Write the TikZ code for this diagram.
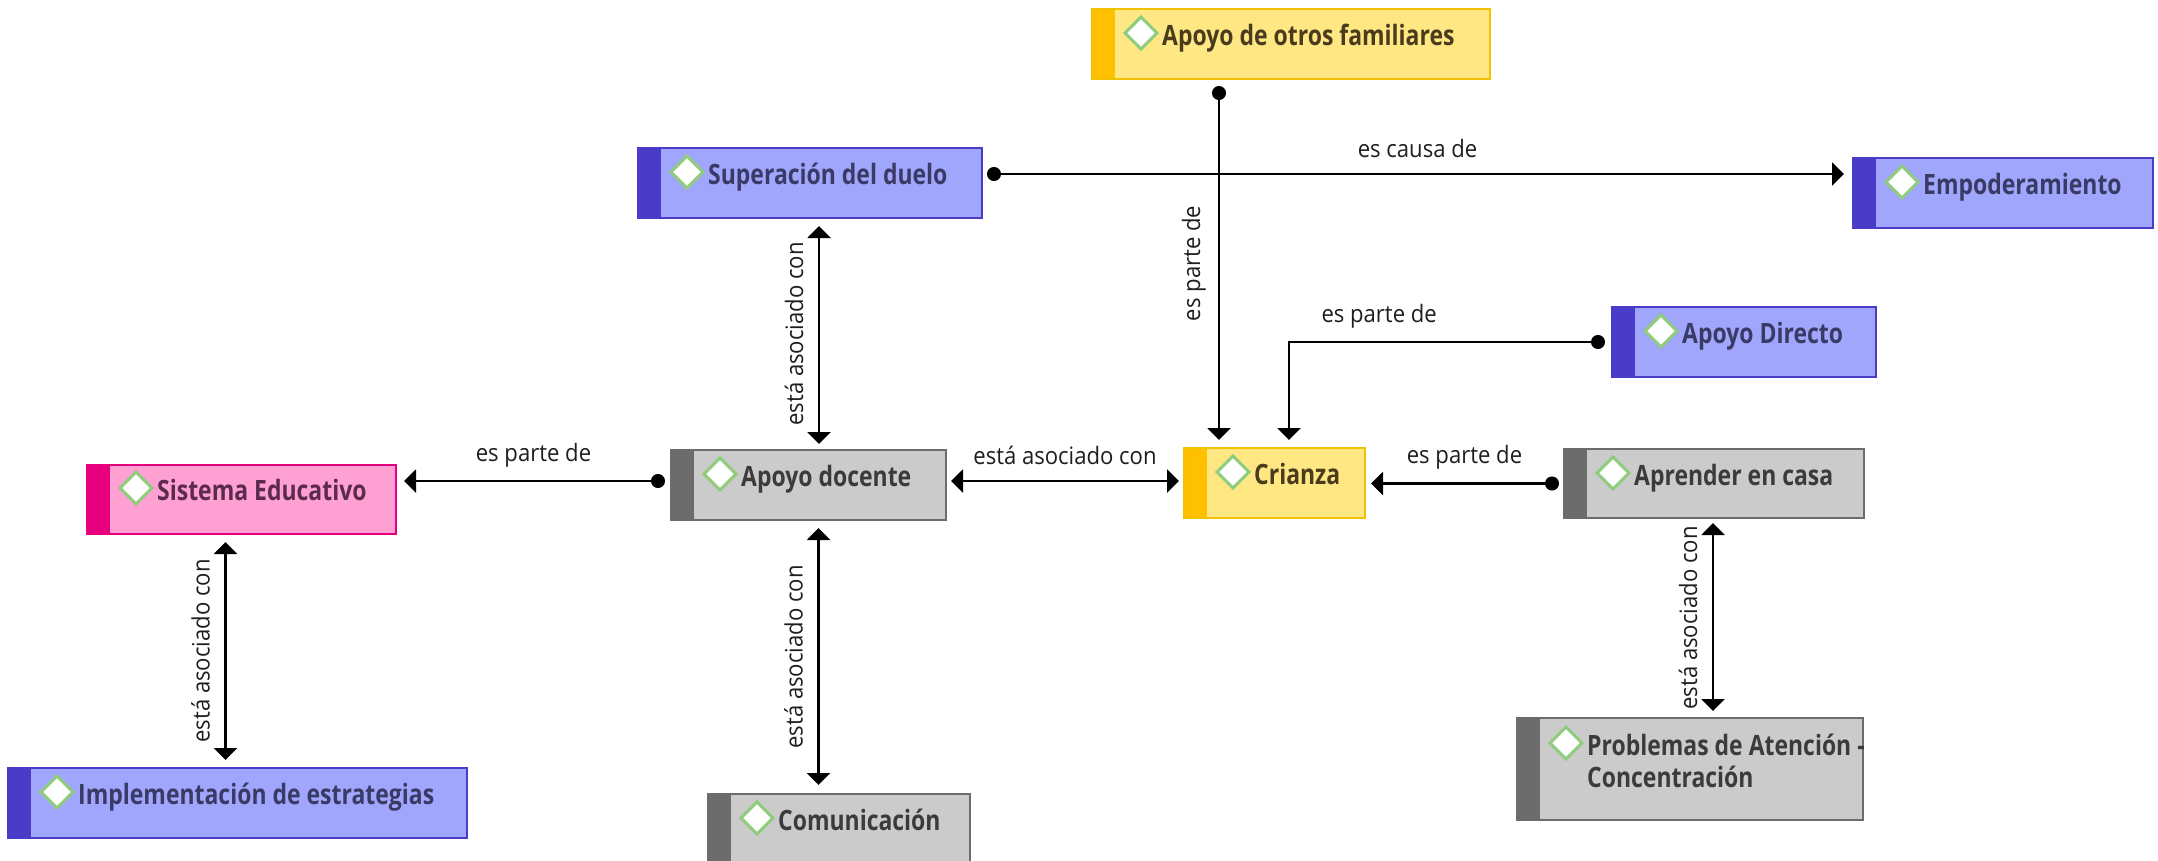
\documentclass[tikz,border=0pt]{standalone}
\usepackage{fontspec}
\newfontfamily\nodefont[FakeStretch=0.82]{Open Sans}
\newfontfamily\labfont[FakeStretch=0.92]{Open Sans}
\usetikzlibrary{arrows.meta,calc}
\definecolor{cblue}{HTML}{A0A6FB}
\definecolor{cbluedk}{HTML}{4A3CC8}
\definecolor{cbluetx}{HTML}{3A3A66}
\definecolor{cgrey}{HTML}{CBCBCB}
\definecolor{cgreydk}{HTML}{6C6C6C}
\definecolor{cgreytx}{HTML}{3B3B3B}
\definecolor{cyel}{HTML}{FFE883}
\definecolor{cyeldk}{HTML}{FFC000}
\definecolor{cyelbd}{HTML}{F2C100}
\definecolor{cyeltx}{HTML}{4A3B1C}
\definecolor{cpink}{HTML}{FFA0D3}
\definecolor{cpinkdk}{HTML}{E6007E}
\definecolor{cpinktx}{HTML}{5C2A4C}
\definecolor{cicon}{HTML}{8FCC7E}
\definecolor{clab}{HTML}{1E1E1E}
\tikzset{
  concept/.style={rectangle, line width=2pt, inner sep=0pt,
    path picture={\fill[#1] (path picture bounding box.south west) rectangle ([xshift=23pt]path picture bounding box.north west);}},
  bluebox/.style={concept=cbluedk, fill=cblue, draw=cbluedk},
  greybox/.style={concept=cgreydk, fill=cgrey, draw=cgreydk},
  yelbox/.style={concept=cyeldk, fill=cyel, draw=cyelbd},
  pinkbox/.style={concept=cpinkdk, fill=cpink, draw=cpinkdk},
  ctext/.style={inner sep=0pt, align=left, font=\nodefont\bfseries\fontsize{28}{29}\selectfont},
  bluebox text/.style={ctext, text=cbluetx},
  greybox text/.style={ctext, text=cgreytx},
  yelbox text/.style={ctext, text=cyeltx},
  pinkbox text/.style={ctext, text=cpinktx},
  icon/.style={draw=cicon, fill=white, line width=3pt, line join=miter},
  conn/.style={draw=black, line width=2.2pt},
  dotarrow/.style={conn, {Circle[length=14pt]}-{Triangle[width=23pt,length=12pt]}},
  twoway/.style={conn, {Triangle[width=23pt,length=12pt]}-{Triangle[width=23pt,length=12pt]}},
  lab/.style={font=\labfont\fontsize{24}{28}\selectfont, text=clab, inner sep=0pt},
}
% #1 name, #2 style, #3 x, #4 y, #5 w, #6 h, #7 last baseline from top, #8 text, #9 icon height above last baseline
\newcommand{\cmapnode}[9]{%
  \node[#2, minimum width=#5pt, minimum height=#6pt, anchor=north west] (#1) at (#3,#4) {};
  \node[#2 text, anchor=base west] (#1-t) at ([xshift=71pt,yshift=-#7pt]#1.north west) {#8};
  \draw[icon] ([xshift=-21pt,yshift=#9pt]#1-t.base west) +(16pt,0pt) -- +(0pt,16pt) -- +(-16pt,0pt) -- +(0pt,-16pt) -- cycle;
}
\begin{document}
\begin{tikzpicture}[x=1pt,y=-1pt]
\path[use as bounding box, fill=white] (0,0) rectangle (2158,860);
\clip (0,0) rectangle (2158,860);
% concepts
\cmapnode{fam}{yelbox}{1091}{8}{398}{70}{37}{Apoyo de otros familiares}{12}
\cmapnode{sup}{bluebox}{637}{147}{344}{70}{37}{Superación del duelo}{12}
\cmapnode{emp}{bluebox}{1852}{157}{300}{70}{37}{Empoderamiento}{12}
\cmapnode{dir}{bluebox}{1611}{306}{264}{70}{37}{Apoyo Directo}{12}
\cmapnode{sis}{pinkbox}{86}{464}{309}{69}{36}{Sistema Educativo}{12}
\cmapnode{doc}{greybox}{670}{449}{275}{70}{37}{Apoyo docente}{12}
\cmapnode{cri}{yelbox}{1183}{447}{181}{70}{37}{Crianza}{12}
\cmapnode{apr}{greybox}{1563}{448}{300}{69}{37}{Aprender en casa}{12}
\cmapnode{imp}{bluebox}{7}{767}{459}{70}{37}{Implementación de estrategias}{12}
\cmapnode{com}{greybox}{707}{793}{262}{72}{37}{Comunicación}{12}
\cmapnode{prob}{greybox}{1516}{717}{346}{102}{70}{Problemas de Atención -\\[3pt]Concentración}{44}
% connector end points
\coordinate (supR) at ([yshift=9pt]sup.east);
\coordinate (docL) at ([yshift=4pt]doc.west);
\coordinate (docR) at ([yshift=4pt]doc.east);
% connectors
\draw[dotarrow, shorten <=6pt, shorten >=7pt] ([xshift=-72pt]fam.south) -- ([xshift=-72pt]fam.south |- cri.north)
  node[lab, midway, xshift=-25pt, rotate=90] {es parte de};
\draw[dotarrow, shorten <=6pt, shorten >=7pt] (dir.west) -| ([xshift=106pt]cri.north west)
  node[lab, pos=0.36, yshift=26pt] {es parte de};
\draw[dotarrow, shorten <=4pt, shorten >=8pt] (supR) -- (emp.west |- supR)
  node[lab, midway, yshift=26pt] {es causa de};
\draw[twoway, shorten <=7pt, shorten >=5pt] ([xshift=9pt]sup.south) -- ([xshift=9pt]sup.south |- doc.north)
  node[lab, midway, xshift=-25pt, rotate=90] {está asociado con};
\draw[dotarrow, shorten <=5pt, shorten >=7pt] (docL) -- (sis.east |- docL)
  node[lab, midway, yshift=26pt] {es parte de};
\draw[twoway, shorten <=4pt, shorten >=4pt] (docR) -- (cri.west |- docR)
  node[lab, midway, yshift=26pt] {está asociado con};
\draw[dotarrow, shorten <=4pt, shorten >=5pt] (apr.west) -- (cri.east |- apr.west)
  node[lab, midway, yshift=26pt] {es parte de};
\draw[twoway, shorten <=7pt, shorten >=7pt] ([xshift=-16pt]sis.south) -- ([xshift=-16pt]sis.south |- imp.north)
  node[lab, midway, xshift=-25pt, rotate=90] {está asociado con};
\draw[twoway, shorten <=7pt, shorten >=8pt] ([xshift=10pt]doc.south) -- ([xshift=10pt]doc.south |- com.north)
  node[lab, midway, xshift=-25pt, rotate=90] {está asociado con};
\draw[twoway, shorten <=4pt, shorten >=6pt] ([xshift=-1pt]apr.south) -- ([xshift=-1pt]apr.south |- prob.north)
  node[lab, midway, xshift=-25pt, rotate=90] {está asociado con};
\end{tikzpicture}
\end{document}
